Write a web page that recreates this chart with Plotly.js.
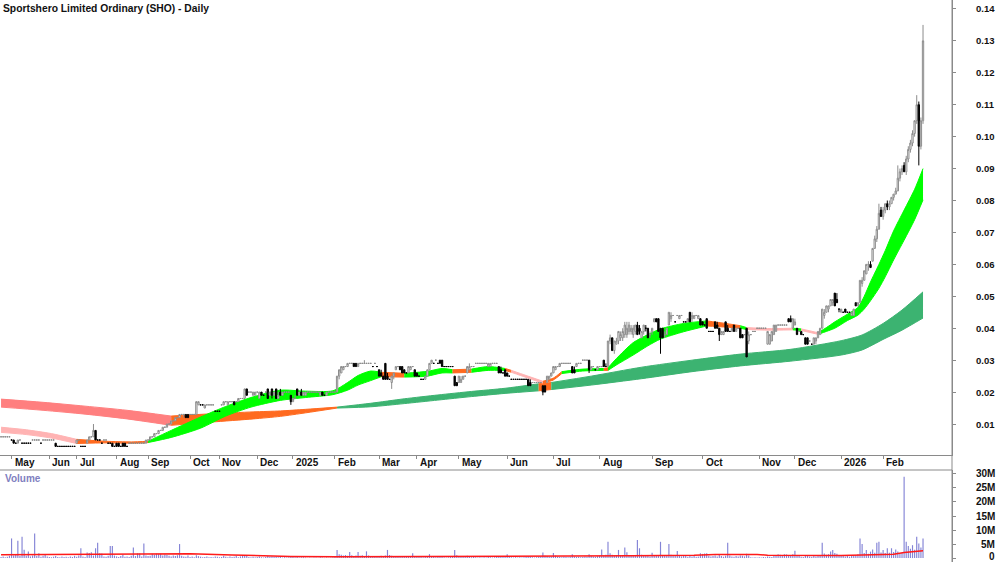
<!DOCTYPE html>
<html>
<head>
<meta charset="utf-8">
<script src="https://cdn.plot.ly/plotly-3.0.1.min.js"></script>
<style>
html,body{margin:0;padding:0;background:#ffffff;}
#chart{width:1000px;height:562px;}
</style>
</head>
<body>
<div id="chart"></div>
<script>
// ---------------- DATA ----------------
// Prices are in thousandths of a dollar (A$0.001); axis labels show dollars.
const chartTitle = 'Sportshero Limited Ordinary (SHO) - Daily';

const priceOpen = [
6,6,6,6,6,5,5,4,4,5, 4,4,4,4,4,5,5,5,5,4, 5,5,5,5,5,5,4,3,3,3, 3,3,3,3,3,3,4,5,3,3,
3,4,5,6,6,8,5,5,4,5, 5,4,4,4,3,4,4,3,4,4, 3,4,4,4,4,4,4,4,4,4, 5,5,6,6,7,7,8,8,9,9,
10,10,11,11,12,12,13,13,13,13, 13,13,13,13,16,16,16,15,16,16, 16,16,14,14,14,16,16,17,16,17, 17,17,17,17,18,18,18,21,20,20,
19,19,20,18,20,19,20,21,19,21, 19,21,18,20,19,20,20,20,19,17, 18,21,19,20,19,19,20,20,20,20, 20,20,19,20,19,19,20,20,20,20,
20,25,26,27,28,28,29,29,29,29, 28,29,29,29,29,29,29,28,29,28, 27,26,25,29,25,24,23,25,27,28, 28,28,27,26,26,27,28,27,26,25,
24,24,24,25,27,29,29,30,29,30, 30,28,28,28,28,28,25,23,23,23, 24,25,26,27,28,28,29,29,29,29, 29,29,28,28,29,29,29,28,27,26,
27,26,25,24,24,24,24,24,24,24, 24,24,23,23,23,23,23,23,22,22, 23,24,25,26,27,28,28,29,29,29, 29,29,28,27,28,29,29,30,30,30,
30,27,28,27,27,28,28,30,28,28, 36,37,33,35,36,37,37,38,38,39, 39,38,39,41,40,37,39,40,40,38, 39,42,43,43,40,40,38,38,41,43,
44,42,44,43,44,42,42,42,45,43, 43,44,43,43,42,41,43,39,39,39, 42,41,40,38,38,42,40,39,39,41, 39,40,40,38,38,40,36,38,39,39,
40,40,40,40,40,35,35,36,38,39, 41,41,41,41,41,43,43,40,41,40, 39,39,38,37,37,36,35,35,36,37, 38,40,44,45,46,47,48,51,49,46,
45,45,46,45,45,44,44,48,47,48, 54,55,57,60,60,61,65,68,71,77, 75,77,79,78,79,81,82,83,87,89, 91,89,93,96,98,101,105,110,97,105
];
const priceHigh = [
6,6,6,6,6,5,5,4,5,5, 4,4,4,4,4,5,5,5,5,4, 5,5,5,5,5,5,4,3,3,3, 3,3,3,3,3,3,5,5,3,3,
3,5,6,6,10,8,5,5,4,5, 5,4,4,4,3,4,4,3,4,4, 3,4,4,4,4,4,4,4,4,5, 5,6,6,7,7,8,8,9,9,10,
10,11,11,12,12,13,13,13,13,13, 13,13,13,17,17,16,16,16,16,16, 16,16,14,14,14,16,17,17,17,17, 17,17,17,18,18,18,21,21,20,20,
20,20,20,20,20,19,20,21,20,21, 20,21,20,21,20,20,20,20,19,18, 19,21,20,21,20,20,20,20,20,20, 20,20,20,20,19,20,20,20,20,20,
25,27,28,28,28,29,29,29,29,29, 29,29,29,30,29,29,29,28,29,28, 27,27,25,29,26,24,25,26,28,28, 28,28,27,26,28,28,28,27,26,25,
24,24,25,27,29,30,29,30,29,30, 30,28,28,28,28,28,25,23,25,25, 25,25,28,29,28,28,29,29,29,29, 29,29,29,29,29,29,29,28,28,26,
27,26,25,24,24,24,24,24,24,24, 24,24,24,23,23,23,23,23,22,22, 25,25,26,28,28,28,29,29,29,29, 29,29,28,28,29,29,29,30,30,30,
30,28,28,27,28,28,28,30,29,36, 38,37,36,37,39,39,40,42,42,42, 41,41,41,42,41,39,41,41,40,39, 40,43,43,43,40,40,39,40,45,45,
44,42,44,44,44,42,42,43,45,45, 44,44,44,43,42,41,43,39,39,39, 42,42,40,39,39,42,41,39,40,41, 40,40,40,38,38,40,39,38,39,39,
40,40,40,40,40,39,38,39,41,41, 41,41,41,41,41,43,44,43,43,40, 39,39,38,37,37,36,35,37,37,39, 40,46,46,47,47,49,49,51,51,46,
46,45,46,45,45,45,46,48,48,55, 56,58,60,61,61,65,69,72,79,78, 78,79,80,80,81,82,84,91,90,91, 92,94,97,99,102,105,113,111,106,135
];
const priceLow = [
6,6,6,6,6,5,4,4,4,5, 4,4,4,4,4,5,5,5,5,4, 5,5,5,5,5,5,3,3,3,3, 3,3,3,3,3,3,4,5,3,3,
3,4,5,6,6,5,5,5,4,5, 5,4,4,3,3,3,3,3,3,3, 3,4,4,4,4,4,4,4,4,4, 5,5,6,6,7,7,8,8,9,9,
10,10,11,11,12,12,13,12,12,12, 13,13,13,13,16,16,16,15,16,16, 16,16,14,14,14,16,16,17,16,17, 17,16,17,17,18,18,18,19,20,20,
19,19,20,18,19,19,20,18,19,18, 19,18,18,19,19,20,20,20,16,17, 18,19,19,19,19,19,20,20,20,20, 20,20,19,19,19,19,20,20,20,20,
20,24,26,27,28,28,29,29,28,28, 28,29,29,29,29,29,29,28,29,28, 25,25,24,24,24,24,21,24,27,28, 27,26,26,26,26,27,28,25,25,25,
24,24,24,25,27,29,29,30,29,29, 28,28,28,28,28,28,22,22,23,23, 24,25,26,27,28,28,29,29,29,29, 29,29,28,28,29,29,29,26,26,26,
25,25,25,24,24,24,24,24,24,24, 24,22,22,23,23,23,23,23,19,20, 23,24,25,26,27,28,28,29,29,29, 29,29,26,26,28,29,29,30,30,30,
26,27,28,27,27,28,28,28,28,28, 35,33,32,35,35,36,36,37,37,38, 38,37,38,38,38,37,38,39,37,37, 38,42,42,39,32,37,37,38,41,42,
44,42,44,43,44,42,42,42,42,42, 43,44,43,41,41,41,40,39,39,39, 40,40,36,38,38,39,39,39,39,39, 39,40,37,37,38,31,35,38,39,39,
40,40,40,40,40,35,35,36,38,39, 41,41,41,41,41,42,42,40,41,38, 39,38,38,35,35,36,35,35,35,37, 38,40,43,45,45,47,47,47,48,45,
45,45,45,45,45,44,44,47,47,48, 53,55,57,58,59,61,65,67,71,75, 74,76,77,77,79,80,82,83,86,88, 89,88,92,95,97,100,104,91,96,104
];
const priceClose = [
6,6,6,6,6,5,4,4,5,5, 4,4,4,4,4,5,5,5,5,4, 5,5,5,5,5,5,3,3,3,3, 3,3,3,3,3,3,5,5,3,3,
3,5,6,6,8,5,5,5,4,5, 5,4,4,3,3,3,3,3,3,3, 3,4,4,4,4,4,4,4,4,5, 5,6,6,7,7,8,8,9,9,10,
10,11,11,12,12,13,13,13,12,12, 13,13,13,17,17,16,16,16,16,16, 16,16,14,14,14,16,17,17,17,17, 17,16,17,18,18,18,21,19,20,20,
20,20,20,20,19,19,20,18,20,19, 20,18,19,19,20,20,20,20,17,18, 18,19,20,19,20,20,20,20,20,20, 20,20,20,19,19,20,20,20,20,20,
25,27,28,28,28,29,29,29,28,28, 29,29,29,29,29,29,29,28,29,28, 25,25,24,24,24,24,25,26,28,28, 27,26,26,26,28,28,28,25,25,25,
24,24,25,27,29,30,29,30,29,29, 28,28,28,28,28,28,22,22,25,24, 25,25,28,28,28,28,29,29,29,29, 29,29,29,29,29,29,29,26,26,26,
25,25,25,24,24,24,24,24,24,24, 24,22,22,23,23,23,23,23,20,20, 25,25,26,28,28,28,29,29,29,29, 29,29,26,26,29,29,29,30,30,30,
27,28,28,27,28,28,28,28,28,36, 37,33,36,36,39,38,39,41,40,41, 40,40,41,38,39,39,41,40,37,38, 40,43,42,39,37,37,38,40,45,44,
44,42,44,44,44,42,42,43,42,44, 44,44,44,41,41,41,40,39,39,39, 40,40,38,39,39,39,39,39,40,39, 40,40,37,37,38,31,38,38,39,39,
40,40,40,40,40,39,38,39,41,41, 41,41,41,41,41,42,42,43,42,38, 39,38,38,35,35,36,35,37,37,39, 40,46,45,47,47,49,49,47,48,46,
46,45,45,45,45,45,46,47,48,55, 55,58,60,60,59,65,68,71,76,75, 77,79,78,79,81,82,83,87,89,90, 89,93,96,98,101,105,110,97,105,130
];
// Daily volume, millions of shares
const volumeM = [
.4,.6,.3,.5,.8,7.0,.9,1.1,6.2,.7, 7.6,3.0,.8,2.3,.6,.9,8.8,.7,1.7,.5, .8,1.3,.6,.4,.3,.5,.7,.4,.3,.6, .4,.5,.3,.6,.4,.8,.5,.9,3.5,.6,
.4,2.0,1.8,2.1,.9,3.5,5.5,1.7,1.6,.6, .5,.8,4.3,4.3,.9,.6,.4,.7,1.2,.5, .6,.4,.8,3.8,.7,1.7,1.6,.6,5.2,.9, .7,.8,1.5,1.2,1.6,1.4,1.5,.9,1.3,1.1,
.8,.6,.9,.7,1.0,5.0,.8,.6,.5,.9, .4,.6,.3,1.0,.7,.5,.3,.4,.6,.3, .4,.3,.6,.5,.3,.4,.8,.5,.3,.6, .4,.5,.7,.3,.6,.9,1.0,.7,.4,.3,
.5,.3,.4,.6,.3,.2,.4,.7,.5,.6, .4,.5,.3,.4,.2,.3,.2,.3,.5,.4, .3,.4,.2,.3,.3,.2,.1,.2,.1,.2, .2,.1,.3,.2,.1,.2,.1,.2,.3,.4,
2.9,1.4,1.2,.9,1.1,.8,2.2,1.0,.7,.9, 2.2,.8,1.0,.6,2.4,.9,.5,.6,.4,.5, .7,.8,.5,.9,2.9,1.1,.8,.6,.5,.4, .6,.5,.4,.7,.5,.6,1.7,.5,.4,.6,
.5,.3,.4,.6,1.4,.5,.4,.3,.5,.4, .6,.3,.2,.3,.4,.5,2.9,1.0,.6,.5, .4,.6,.8,.5,.3,.4,.3,.2,.3,.2, .3,.2,.4,.3,.2,.3,.4,.6,.5,.4,
.5,1.4,.4,.3,.2,.3,.2,.3,.2,.3, .4,.6,.5,.3,.2,.3,.4,.6,2.0,.8, .7,.5,.6,1.8,.9,.5,.4,.3,.5,.4, .3,.5,1.4,.6,.4,.5,.3,.4,.6,.5,
1.4,.8,.6,.5,.7,.8,3.1,.9,1.2,5.8, 1.7,1.2,.9,1.0,2.9,1.1,.8,3.8,2.1,1.0, .9,1.1,.7,6.4,3.5,1.2,.8,.9,.7,.6, 1.9,.8,.7,.9,5.8,1.0,.8,.7,5.0,1.2,
.9,.7,2.5,.8,.6,.9,.7,.5,.8,.6, .7,.5,.6,1.7,1.5,1.6,1.7,.8,.6,.7, .9,.6,1.2,.7,.5,.8,5.5,.9,.6,.5, .7,.6,.9,.8,.6,1.5,.9,.3,.2,.3,
.2,.3,.2,.4,.3,.6,.5,.4,.7,.8, 1.4,1.2,1.0,1.4,1.3,.9,1.1,1.4,2.6,.8, .7,.5,.4,.8,.9,.6,.5,.7,.6,.9, 1.1,5.5,1.6,1.2,1.4,2.3,2.9,1.8,1.5,1.0,
.8,.9,.6,.7,.5,.8,.9,1.1,1.4,7.0, 5.0,1.8,2.9,1.5,2.3,3.1,1.9,5.5,5.8,2.0, 2.9,1.8,3.5,1.9,3.5,2.2,3.1,2.3,1.6,1.9, 29,5.8,4.3,3.3,4.6,3.0,7.6,5.2,3.8,7.0
];
// Volume moving average read at sample bars (millions)
const volMaIdx = [0,27,60,90,110,138,160,200,240,285,300,330,340,360,365,400,410,425,430,439];
const volMaVal = [1.2,1.3,1.6,1.5,1.1,0.6,0.5,0.6,0.5,0.6,0.8,1.0,1.3,1.3,1.0,0.9,1.1,1.4,2.0,2.6];

// Short-term moving-average ribbon (thousandths of a dollar), state of the segment that starts at each sample
const shortIdx = [0,12,24,36,50,62,70,81,95,107,119,133,145,158,165,170,176,181,192,203,210,215,224,232,240,243,250,258,263,267,277,287,289,293,301,308,314,325,336,344,352,355,365,377,381,389,393,397,403,408,411,414,418,421,425,430,435,439];
const shortTop = [9.0,8.2,7.0,5.2,4.6,4.4,4.6,8.0,12.2,15.5,18.3,20.6,20.3,20.4,23.0,25.2,26.6,26.2,25.9,26.5,27.4,27.0,27.2,28.0,27.4,26.8,25.2,23.4,24.4,26.4,27.2,27.4,27.6,30.5,35.5,38.0,39.8,41.5,42.3,41.6,40.8,40.2,39.9,40.0,39.8,38.6,40.2,42.0,44.4,46.5,50.0,54.5,60.0,64.3,70.5,77.0,83.5,90.0];
const shortBot = [7.4,6.7,5.6,3.9,4.1,4.0,4.2,5.8,8.7,12.5,15.3,17.4,18.3,19.2,20.6,22.2,23.6,24.8,24.7,25.0,26.0,26.0,26.2,26.8,26.8,26.2,24.6,22.8,23.8,25.8,26.6,26.8,26.8,28.5,31.6,34.5,36.6,38.9,40.7,40.4,40.0,39.6,39.4,39.5,39.3,38.1,39.0,40.0,42.4,44.1,46.0,48.6,52.5,56.1,61.4,67.6,74.0,80.2];
const shortState = ['weak','weak','weak','down','down','down','up','up','up','up','up','up','up','up','up','up','up','down','up','up','up','down','up','up','down','weak','weak','down','down','up','up','down','up','up','up','up','up','up','down','down','up','weak','weak','up','weak','up','up','up','up','up','up','up','up','up','up','up','up','up'];

// Long-term moving-average ribbon
const longIdx = [0,20,40,60,81,100,120,133,145,160,176,192,208,224,240,256,262,281,305,329,352,376,400,410,420,429,439];
const longTop = [17.8,16.8,15.6,14.3,12.5,13.2,13.8,14.1,14.6,15.3,16.5,17.9,19.1,20.2,21.2,22.6,23.0,25.0,27.8,30.0,31.9,33.4,36.1,37.9,41.5,45.7,51.4];
const longBot = [15.3,14.3,13.1,11.6,9.6,10.6,11.6,12.4,13.5,15.0,15.4,16.4,17.5,18.6,19.6,20.4,20.8,22.2,24.2,26.4,28.2,29.7,31.6,33.2,36.5,39.4,43.2];
const longState = ['weak','weak','weak','weak','down','down','down','down','down','up','up','up','up','up','up','down','up','up','up','up','up','up','up','up','up','up','up'];

// Axis ticks
const monthTickIdx = [5,23,36,55,70,90,104,122,139,159,180,198,218,241,263,285,310,334,361,378,400,420];
const monthLabels = ['May','Jun','Jul','Aug','Sep','Oct','Nov','Dec','2025','Feb','Mar','Apr','May','Jun','Jul','Aug','Sep','Oct','Nov','Dec','2026','Feb'];
const priceTickVals = [10,20,30,40,50,60,70,80,90,100,110,120,130,140];
const priceTickText = ['0.01','0.02','0.03','0.04','0.05','0.06','0.07','0.08','0.09','0.10','0.11','0.12','0.13','0.14'];
const volTickVals = [0,5,10,15,20,25,30];
const volTickText = ['0','5M','10M','15M','20M','25M','30M'];

// ---------------- STYLE ----------------
const FONT = '"Liberation Sans", Arial, sans-serif';
const AXIS_GREY = '#8a8a8a';
const SHORT_COLORS = {up:'#00ff00', down:'#ff6a1f', weak:'#ffb3b3'};
const LONG_COLORS = {up:'#3cb371', down:'#ff6a1f', weak:'#ff7f7f'};
const PLOT_RIGHT = 0.952;
const PRICE_RANGE = [0.3, 142.8];
const X_RANGE = [-0.5, 452.8];
const PRICE_DOMAIN = [1 - 455/562, 1];
const VOL_DOMAIN = [0, 92/562];

const barIndex = priceClose.map((_, i) => i);

function ribbonTraces(idx, top, bot, state, colors) {
  const out = [];
  let start = 0;
  for (let i = 1; i <= idx.length; i++) {
    if (i === idx.length || state[i] !== state[start]) {
      const end = Math.min(i, idx.length - 1);
      const col = colors[state[start]];
      const xs = idx.slice(start, end + 1);
      out.push({type:'scatter', mode:'lines', x:xs, y:top.slice(start, end + 1),
        line:{color:col, width:1, shape:'spline', smoothing:0.7}, hoverinfo:'skip', showlegend:false, xaxis:'x', yaxis:'y'});
      out.push({type:'scatter', mode:'lines', x:xs, y:bot.slice(start, end + 1),
        line:{color:col, width:1, shape:'spline', smoothing:0.7}, fill:'tonexty', fillcolor:col,
        hoverinfo:'skip', showlegend:false, xaxis:'x', yaxis:'y'});
      start = i;
    }
  }
  return out;
}

const traces = [];
ribbonTraces(longIdx, longTop, longBot, longState, LONG_COLORS).forEach(t => traces.push(t));
ribbonTraces(shortIdx, shortTop, shortBot, shortState, SHORT_COLORS).forEach(t => traces.push(t));

traces.push({
  type:'candlestick', x:barIndex, open:priceOpen, high:priceHigh, low:priceLow, close:priceClose,
  xaxis:'x', yaxis:'y3', whiskerwidth:0, hoverinfo:'skip', showlegend:false,
  increasing:{line:{color:'#8c8c8c', width:1}, fillcolor:'#ffffff'},
  decreasing:{line:{color:'#000000', width:1}, fillcolor:'#000000'}
});

traces.push({
  type:'bar', x:barIndex, y:volumeM, xaxis:'x2', yaxis:'y2', width:0.55,
  marker:{color:'#8484d6', line:{width:0}}, hoverinfo:'skip', showlegend:false
});
traces.push({
  type:'scatter', mode:'lines', x:volMaIdx, y:volMaVal, xaxis:'x2', yaxis:'y2',
  line:{color:'#ff1a1a', width:1.5}, hoverinfo:'skip', showlegend:false
});

const labelFont = {family:FONT, size:10, color:'#111111', weight:'bold'};
const annotations = [];
monthTickIdx.forEach((v, i) => annotations.push({
  xref:'x', x:v, xanchor:'left', xshift:1, yref:'paper', y:1 - 462/562, yanchor:'middle',
  text:monthLabels[i], showarrow:false, font:labelFont
}));
priceTickVals.forEach((v, i) => annotations.push({
  xref:'paper', x:0.997, xanchor:'right', yref:'y', y:v, yanchor:'middle',
  text:priceTickText[i], showarrow:false, font:{family:FONT, size:9.5, color:'#111111', weight:'bold'}
}));
volTickVals.forEach((v, i) => annotations.push({
  xref:'paper', x:0.997, xanchor:'right', yref:'y2', y:v, yanchor:'middle', yshift:(v === 0 ? 2 : 0),
  text:volTickText[i], showarrow:false, font:labelFont
}));
annotations.push({
  xref:'paper', x:0.003, xanchor:'left', yref:'paper', y:1 - 478/562, yanchor:'middle',
  text:'Volume', showarrow:false, font:{family:FONT, size:10, color:'#8080c0', weight:'bold'}
});

const layout = {
  width:1000, height:562,
  margin:{l:0, r:0, t:0, b:0, pad:0},
  paper_bgcolor:'#ffffff', plot_bgcolor:'#ffffff',
  showlegend:false,
  boxgap:0.1,
  title:{text:chartTitle, x:0.003, xanchor:'left', y:1 - 8.5/562, yanchor:'middle',
    font:{family:FONT, size:10.3, color:'#111111', weight:'bold'}},
  xaxis:{domain:[0, PLOT_RIGHT], range:X_RANGE, anchor:'y', tickvals:monthTickIdx, ticks:'outside', ticklen:3,
    tickcolor:AXIS_GREY, showticklabels:false, showline:true, linecolor:AXIS_GREY, linewidth:1,
    showgrid:false, zeroline:false, rangeslider:{visible:false}, fixedrange:true},
  yaxis:{domain:PRICE_DOMAIN, range:PRICE_RANGE, side:'right', anchor:'x', tickvals:priceTickVals, showticklabels:false,
    ticks:'outside', ticklen:3, tickcolor:AXIS_GREY, showline:true, linecolor:AXIS_GREY, linewidth:1,
    showgrid:false, zeroline:false, fixedrange:true},
  yaxis3:{domain:PRICE_DOMAIN, range:PRICE_RANGE, overlaying:'y', anchor:'x', side:'right', visible:false, fixedrange:true},
  xaxis2:{domain:[0, PLOT_RIGHT], range:X_RANGE, anchor:'y2', showticklabels:false, ticks:'', showline:false,
    showgrid:false, zeroline:false, fixedrange:true},
  yaxis2:{domain:VOL_DOMAIN, range:[-1.4, 31.4], side:'right', anchor:'x2', tickvals:volTickVals, showticklabels:false,
    ticks:'outside', ticklen:3, tickcolor:AXIS_GREY, showline:true, linecolor:AXIS_GREY, linewidth:1,
    showgrid:false, zeroline:false, fixedrange:true},
  shapes:[
    {type:'line', xref:'paper', yref:'paper', x0:PLOT_RIGHT, x1:PLOT_RIGHT, y0:0, y1:1, line:{color:AXIS_GREY, width:1}},
    {type:'line', xref:'paper', yref:'paper', x0:0, x1:PLOT_RIGHT, y0:VOL_DOMAIN[1], y1:VOL_DOMAIN[1], line:{color:AXIS_GREY, width:1}}
  ],
  annotations:annotations
};

Plotly.newPlot('chart', traces, layout, {displayModeBar:false, staticPlot:true});
</script>
</body>
</html>
